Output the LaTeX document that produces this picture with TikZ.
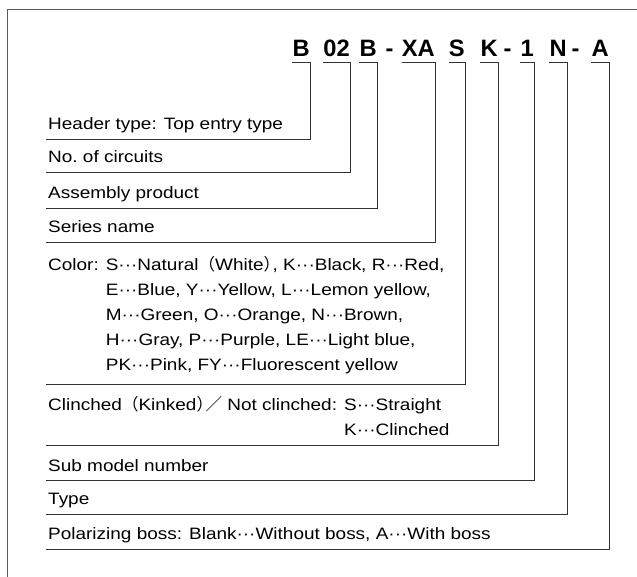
\documentclass[tikz,border=0pt]{standalone}
\usepackage{fontspec}
\setmainfont{Liberation Sans}[FakeStretch=1.15]
\newfontfamily\codefont{Liberation Sans}
\newfontfamily\cjk{Noto Sans CJK JP}
\usetikzlibrary{positioning}
\newcommand\ddd{\textperiodcentered\textperiodcentered\textperiodcentered}
\newcommand\lpar{{\cjk（}}
\newcommand\rpar{{\cjk）}\kern-0.45em}

\begin{document}
\begin{tikzpicture}[x=1pt, y=-1pt,
    code/.style={font=\codefont\bfseries\fontsize{23.7}{24}\selectfont, inner sep=0pt, anchor=base east},
    label/.style={font=\fontsize{16.5}{25}\selectfont, inner sep=0pt, anchor=base west, align=left},
    lead/.style={line width=0.9pt, black!80},
    frame/.style={line width=1pt, black!65}]
  \useasboundingbox (0,0) rectangle (637,577);
  \draw[frame] (637,10) -- (7,10) -- (7,577);

  % part number
  \node[code] (c1) at (310,57) {B};
  \node[code] (c2) at (350,57) {02};
  \node[code] (c3) at (377,57) {B};
  \node[code, anchor=base] (d1) at (389.5,57) {-};
  \node[code] (c4) at (435,57) {XA};
  \node[code] (c5) at (465,57) {S};
  \node[code] (c6) at (498,57) {K};
  \node[code, anchor=base] (d2) at (507.5,57) {-};
  \node[code] (c7) at (534,57) {1};
  \node[code] (c8) at (567,57) {N};
  \node[code, anchor=base] (d3) at (575.5,57) {-};
  \node[code] (c9) at (609,57) {A};

  % explanations (base of a multi-line node = its last line)
  \node[label] (hdr) at (48,130) {Header type: Top entry type};
  \node[label] (cir) at (48,163) {No.\ of circuits};
  \node[label] (asm) at (48,199) {Assembly product};
  \node[label] (ser) at (48,233) {Series name};
  \node[label] (col) at (48,370) {Color: S\ddd Natural\lpar White\rpar, K\ddd Black, R\ddd Red,\\
    \hphantom{Color: }E\ddd Blue, Y\ddd Yellow, L\ddd Lemon yellow,\\
    \hphantom{Color: }M\ddd Green, O\ddd Orange, N\ddd Brown,\\
    \hphantom{Color: }H\ddd Gray, P\ddd Purple, LE\ddd Light blue,\\
    \hphantom{Color: }PK\ddd Pink, FY\ddd Fluorescent yellow};
  \node[label] (cli) at (48,435) {Clinched\lpar Kinked\rpar{\cjk／} Not clinched: S\ddd Straight\\
    \hphantom{Clinched\lpar Kinked\rpar{\cjk／} Not clinched: }K\ddd Clinched};
  \node[label] (sub) at (48,471) {Sub model number};
  \node[label] (typ) at (48,504) {Type};
  \node[label] (pol) at (48,539) {Polarizing boss: Blank\ddd Without boss, A\ddd With boss};

  % leader lines
  \foreach \c/\l/\y in {c1/hdr/139, c2/cir/172, c3/asm/208, c4/ser/242, c5/col/384,
                        c6/cli/445, c7/sub/480, c8/typ/514, c9/pol/549} {
    \coordinate (\l-end) at (46,\y);
    \draw[lead] ([yshift=-5pt]\c.base west) -- ([yshift=-5pt]\c.base east) |- (\l-end);
  }
\end{tikzpicture}
\end{document}
